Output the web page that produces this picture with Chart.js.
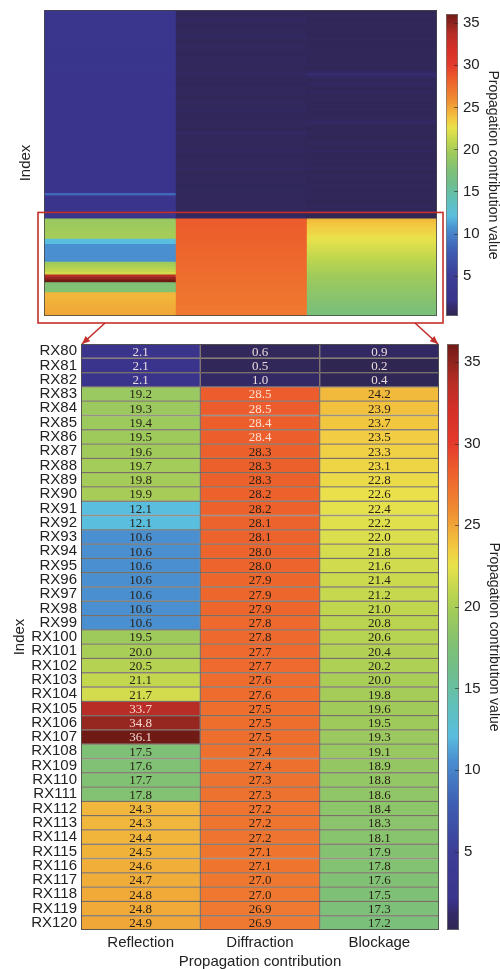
<!DOCTYPE html>
<html lang="en">
<head>
<meta charset="UTF-8">
<title>Propagation contribution heatmap</title>
<script src="https://cdn.jsdelivr.net/npm/chart.js@4.4.1/dist/chart.umd.min.js"></script>
<style>
  body { margin: 0; background: #fff; }
  .wrap { position: relative; width: 500px; height: 969px; overflow: hidden; }
  canvas { position: absolute; }
</style>
</head>
<body>
<div class="wrap">
  <canvas id="topMap" width="445" height="350" style="left:0;top:0"></canvas>
  <canvas id="topBar" width="60" height="330" style="left:440px;top:0"></canvas>
  <canvas id="mainMap" width="445" height="639" style="left:0;top:330px"></canvas>
  <canvas id="mainBar" width="60" height="639" style="left:441px;top:330px"></canvas>
</div>
<script>
// columns of the heatmap
const columns = ['Reflection', 'Diffraction', 'Blockage'];

// zoomed rows RX80..RX120
const rxLabels = ['RX80','RX81','RX82','RX83','RX84','RX85','RX86','RX87','RX88','RX89','RX90',
  'RX91','RX92','RX93','RX94','RX95','RX96','RX97','RX98','RX99','RX100',
  'RX101','RX102','RX103','RX104','RX105','RX106','RX107','RX108','RX109','RX110',
  'RX111','RX112','RX113','RX114','RX115','RX116','RX117','RX118','RX119','RX120'];
const reflection = [2.1,2.1,2.1,19.2,19.3,19.4,19.5,19.6,19.7,19.8,19.9,
  12.1,12.1,10.6,10.6,10.6,10.6,10.6,10.6,10.6,19.5,
  20.0,20.5,21.1,21.7,33.7,34.8,36.1,17.5,17.6,17.7,
  17.8,24.3,24.3,24.4,24.5,24.6,24.7,24.8,24.8,24.9];
const diffraction = [0.6,0.5,1.0,28.5,28.5,28.4,28.4,28.3,28.3,28.3,28.2,
  28.2,28.1,28.1,28.0,28.0,27.9,27.9,27.9,27.8,27.8,
  27.7,27.7,27.6,27.6,27.5,27.5,27.5,27.4,27.4,27.3,
  27.3,27.2,27.2,27.2,27.1,27.1,27.0,27.0,26.9,26.9];
const blockage = [0.9,0.2,0.4,24.2,23.9,23.7,23.5,23.3,23.1,22.8,22.6,
  22.4,22.2,22.0,21.8,21.6,21.4,21.2,21.0,20.8,20.6,
  20.4,20.2,20.0,19.8,19.6,19.5,19.3,19.1,18.9,18.8,
  18.6,18.4,18.3,18.1,17.9,17.8,17.6,17.5,17.3,17.2];

// overview rows RX1..RX79 (estimated from the colours)
const reflTop = [
  2.4,2.4,2.3,2.4,2.4,2.3,2.3,2.4,2.4,2.3,
  2.3,2.3,2.4,2.3,2.3,2.3,2.2,2.3,2.3,2.3,
  2.3,2.2,2.3,2.3,2.3,2.2,2.2,2.3,2.2,2.2,
  2.2,2.2,2.3,2.2,2.2,2.2,2.2,2.2,2.1,2.2,
  2.2,2.2,2.1,2.2,2.2,2.1,2.2,2.1,2.1,2.2,
  2.1,2.1,2.2,2.1,2.1,2.1,2.1,2.2,2.1,2.1,
  2.1,2.1,2.1,2.1,2.2,2.1,2.1,2.1,2.1,2.1,
  2.1,2.2,8.5,2.2,2.1,2.1,2.1,2.1,2.1];
const diffTop = [
  0.6,0.7,0.5,0.6,0.8,0.6,0.5,0.7,0.6,0.6,
  0.9,0.6,0.5,0.6,0.7,0.6,0.6,0.5,0.8,0.6,
  0.6,0.7,0.6,0.5,0.6,1.0,0.6,0.6,0.7,0.5,
  0.6,0.6,0.8,0.6,0.5,0.6,0.7,0.6,0.6,0.9,
  0.6,0.5,0.6,0.7,0.6,0.6,0.5,0.6,1.1,0.6,
  0.6,0.7,0.5,0.6,0.6,0.8,0.6,0.5,0.6,0.7,
  0.6,0.6,0.9,0.6,0.5,0.6,0.7,0.6,0.6,0.5,
  0.8,0.6,0.6,0.7,0.5,0.6,0.6,0.7,0.6];
const blockTop = [
  0.5,0.4,0.6,0.5,0.4,0.5,0.6,0.4,0.5,0.5,
  0.4,0.6,0.5,0.5,0.4,0.5,0.6,0.5,0.4,0.5,
  0.5,0.6,0.4,0.5,0.9,1.4,1.0,0.5,0.6,0.9,
  0.5,0.4,0.8,0.5,0.5,0.6,0.4,0.5,0.5,0.6,
  0.4,0.5,0.5,0.7,1.0,0.5,0.4,0.5,0.6,0.5,
  0.4,0.5,0.6,0.5,0.4,0.8,0.5,0.5,0.4,0.6,
  0.5,0.5,0.7,0.4,0.5,0.6,0.5,0.4,0.5,0.6,
  0.5,0.4,0.5,0.6,0.5,0.4,0.5,0.6,0.5];

// colour bar
const colorMin = 0.2, colorMax = 36.1;
const colorTicks = [5, 10, 15, 20, 25, 30, 35];
const cmapStops = [0.2, 1.2, 2.1, 5, 8, 10.6, 12.1, 14, 16, 17.5, 19.5, 21, 22.5, 23.5, 24.5, 26, 27.5, 28.5, 30, 32, 33.7, 34.8, 36.1];
const cmapColors = [[48,38,82],[52,42,105],[58,52,140],[60,62,150],[62,95,180],[74,143,208],[90,190,222],
  [96,192,185],[112,190,140],[126,192,118],[158,202,92],[192,214,78],[232,226,76],[242,204,66],
  [241,178,58],[240,138,50],[238,110,46],[236,92,44],[228,58,44],[212,48,40],[184,46,38],[150,38,32],[112,26,22]];

function colorFor(v) {
  let i = 1;
  while (i < cmapStops.length - 1 && v > cmapStops[i]) i++;
  const t = Math.max(0, Math.min(1, (v - cmapStops[i-1]) / (cmapStops[i] - cmapStops[i-1])));
  const a = cmapColors[i-1], b = cmapColors[i];
  const c = a.map((x, k) => Math.round(x + (b[k] - x) * t));
  return 'rgb(' + c.join(',') + ')';
}

Chart.defaults.font.family = "'Liberation Sans', Arial, sans-serif";
Chart.defaults.color = '#222';

// outline round the plot area
const frame = {
  id: 'frame',
  afterDatasetsDraw(chart) {
    const a = chart.chartArea, ctx = chart.ctx;
    ctx.save();
    ctx.strokeStyle = 'rgba(70,70,70,0.8)';
    ctx.lineWidth = 1;
    ctx.strokeRect(a.left + 0.5, a.top + 0.5, a.right - a.left - 1, a.bottom - a.top - 1);
    ctx.restore();
  }
};

// numbers in the cells
const cellText = {
  id: 'cellText',
  afterDatasetsDraw(chart) {
    const ctx = chart.ctx;
    ctx.save();
    ctx.font = "13px 'Liberation Serif', 'Times New Roman', serif";
    ctx.textAlign = 'center';
    ctx.textBaseline = 'middle';
    chart.data.datasets.forEach((ds, di) => {
      chart.getDatasetMeta(di).data.forEach((el, i) => {
        const v = ds.values[i];
        ctx.fillStyle = (v < 5 || v >= 28.4) ? 'rgba(255,238,232,0.9)' : '#2a2218';
        ctx.fillText(v.toFixed(1), (el.x + el.base) / 2, el.y + 1);
      });
    });
    ctx.restore();
  }
};

// red box round RX80..RX120 and the two arrows
const zoomBox = {
  id: 'zoomBox',
  afterDraw(chart) {
    const a = chart.chartArea, y = chart.scales.y, ctx = chart.ctx;
    const rowH = (a.bottom - a.top) / chart.data.labels.length;
    const top = y.getPixelForValue(chart.data.labels.indexOf('RX80')) - rowH / 2 + 1;
    const box = {l: a.left - 6, r: a.right + 6, t: top, b: a.bottom + 7};
    ctx.save();
    ctx.strokeStyle = '#c3302b';
    ctx.fillStyle = '#c3302b';
    ctx.lineWidth = 1.6;
    ctx.strokeRect(box.l, box.t, box.r - box.l, box.b - box.t);
    const arrows = [[box.l + 67, box.b, 82, 344], [box.r - 28, box.b, 438, 344]];
    arrows.forEach(([x0, y0, x1, y1]) => {
      ctx.beginPath(); ctx.moveTo(x0, y0); ctx.lineTo(x1, y1); ctx.stroke();
      const ang = Math.atan2(y1 - y0, x1 - x0);
      ctx.beginPath();
      ctx.moveTo(x1, y1);
      ctx.lineTo(x1 - 8 * Math.cos(ang) + 3.5 * Math.sin(ang), y1 - 8 * Math.sin(ang) - 3.5 * Math.cos(ang));
      ctx.lineTo(x1 - 8 * Math.cos(ang) - 3.5 * Math.sin(ang), y1 - 8 * Math.sin(ang) + 3.5 * Math.cos(ang));
      ctx.closePath(); ctx.fill();
    });
    ctx.restore();
  }
};

// gradient of the colour bar
const gradientBar = {
  id: 'gradientBar',
  beforeDatasetsDraw(chart) {
    const a = chart.chartArea, s = chart.scales.y, ctx = chart.ctx;
    ctx.save();
    for (let py = Math.floor(a.top); py < a.bottom; py++) {
      ctx.fillStyle = colorFor(s.getValueForPixel(py + 0.5));
      ctx.fillRect(a.left, py, a.right - a.left, 1);
    }
    ctx.strokeStyle = 'rgba(120,120,120,0.7)';
    ctx.lineWidth = 1;
    ctx.strokeRect(a.left + 0.5, a.top + 0.5, a.right - a.left - 1, a.bottom - a.top - 1);
    ctx.strokeStyle = 'rgba(40,40,40,0.6)';
    colorTicks.forEach(v => {
      const p = Math.round(s.getPixelForValue(v)) + 0.5;
      ctx.beginPath(); ctx.moveTo(a.right - 4, p); ctx.lineTo(a.right, p); ctx.stroke();
    });
    ctx.restore();
  }
};

function heatDatasets(cols, border) {
  return cols.map((vals, c) => ({
    label: columns[c],
    values: vals,
    data: vals.map(() => 1),
    backgroundColor: vals.map(colorFor),
    borderColor: border.color,
    borderWidth: border.width,
    inflateAmount: border.inflate,
    borderSkipped: false,
    barPercentage: 1,
    categoryPercentage: 1
  }));
}

// overview heatmap RX1..RX120
const allLabels = [];
for (let i = 1; i <= 120; i++) allLabels.push('RX' + i);
new Chart(document.getElementById('topMap'), {
  type: 'bar',
  data: {
    labels: allLabels,
    datasets: heatDatasets([reflTop.concat(reflection), diffTop.concat(diffraction), blockTop.concat(blockage)],
      {color: 'rgba(0,0,0,0)', width: 0, inflate: 0.7})
  },
  options: {
    responsive: false, animation: false, devicePixelRatio: 1, indexAxis: 'y',
    layout: {padding: {left: 0, right: 8, top: 10, bottom: 34}},
    plugins: {legend: {display: false}, tooltip: {enabled: false}},
    scales: {
      x: {display: false, stacked: true, min: 0, max: 3},
      y: {
        stacked: true,
        ticks: {display: false},
        grid: {display: false, drawTicks: false},
        border: {display: false},
        title: {display: true, text: 'Index', font: {size: 15}, padding: {top: 17, bottom: 0}},
        afterFit(scale) { scale.width = 44; }
      }
    }
  },
  plugins: [frame, zoomBox]
});

// zoomed heatmap RX80..RX120
new Chart(document.getElementById('mainMap'), {
  type: 'bar',
  data: {
    labels: rxLabels,
    datasets: heatDatasets([reflection, diffraction, blockage], {color: 'rgba(60,45,35,0.55)', width: 1, inflate: 'auto'})
  },
  options: {
    responsive: false, animation: false, devicePixelRatio: 1, indexAxis: 'y',
    layout: {padding: {left: 0, right: 6, top: 14, bottom: 0}},
    plugins: {legend: {display: false}, tooltip: {enabled: false}},
    scales: {
      x: {
        stacked: true, min: 0, max: 3,
        grid: {display: false, drawTicks: false},
        border: {display: false},
        afterBuildTicks(scale) { scale.ticks = columns.map((c, i) => ({value: i + 0.5})); },
        ticks: {padding: 4, font: {size: 15}, maxRotation: 0, callback: (v, i) => columns[i]},
        title: {display: true, text: 'Propagation contribution', font: {size: 15, lineHeight: 1}, padding: {top: 0, bottom: 0}},
        afterFit(scale) { scale.height = 39; }
      },
      y: {
        stacked: true,
        grid: {display: false, drawTicks: false},
        border: {display: false},
        ticks: {padding: 4, font: {size: 15}, autoSkip: false},
        title: {display: true, text: 'Index', font: {size: 15}, padding: {top: 11, bottom: 0}},
        afterFit(scale) { scale.width = 81; }
      }
    }
  },
  plugins: [cellText, frame]
});

function colorBar(id, padTop, padBottom) {
  new Chart(document.getElementById(id), {
    type: 'bar',
    data: {labels: ['value'], datasets: []},
    options: {
      responsive: false, animation: false, devicePixelRatio: 1,
      layout: {padding: {left: 6, right: 0, top: padTop, bottom: padBottom}},
      plugins: {legend: {display: false}, tooltip: {enabled: false}},
      scales: {
        x: {display: false},
        y: {
          position: 'right', min: colorMin, max: colorMax,
          grid: {display: false, drawTicks: false},
          border: {display: false},
          afterBuildTicks(scale) { scale.ticks = colorTicks.map(v => ({value: v})); },
          ticks: {padding: 5, font: {size: 15}},
          title: {display: true, text: 'Propagation contribution value', font: {size: 14, lineHeight: 1}, padding: {top: 0, bottom: 0}},
          afterFit(scale) { scale.width = 42; }
        }
      }
    },
    plugins: [gradientBar]
  });
}
colorBar('topBar', 10, 14);
colorBar('mainBar', 14, 39);
</script>
</body>
</html>
